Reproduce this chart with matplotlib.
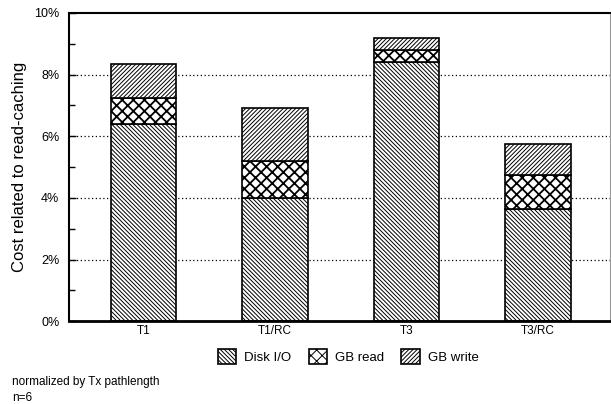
import matplotlib
matplotlib.use('Agg')
import matplotlib.pyplot as plt
import numpy as np

plt.rcParams['font.family'] = ['Liberation Sans', 'DejaVu Sans']

# data (percent)
configs = ['T1', 'T1/RC', 'T3', 'T3/RC']
disk_io = [6.4, 4.0, 8.4, 3.65]
gb_read = [0.85, 1.2, 0.4, 1.1]
gb_write = [1.1, 1.7, 0.4, 1.0]

x = np.arange(len(configs))
w = 0.5

fig = plt.figure(figsize=(6.11, 4.04), dpi=100)
ax = fig.add_axes([0.113, 0.205, 0.885, 0.763])

plt.rcParams['hatch.linewidth'] = 0.7
b1 = ax.bar(x, disk_io, w, color='white', edgecolor='black', hatch='\\' * 8, lw=1.2, label='Disk I/O', zorder=2)
plt.rcParams['hatch.linewidth'] = 1.3
b2 = ax.bar(x, gb_read, w, bottom=disk_io, color='white', edgecolor='black', hatch='xxx', lw=1.2, label='GB read', zorder=2)
plt.rcParams['hatch.linewidth'] = 0.7
bot = np.array(disk_io) + np.array(gb_read)
b3 = ax.bar(x, gb_write, w, bottom=bot, color='white', edgecolor='black', hatch='/' * 8, lw=1.2, label='GB write', zorder=2)

ax.set_xlim(-0.567, 3.547)
ax.set_ylim(0, 10)
ax.set_yticks(np.arange(0, 11, 2))
ax.set_yticklabels([f'{v}%' for v in range(0, 11, 2)], fontsize=9)
ax.set_yticks(np.arange(1, 10, 2), minor=True)
ax.set_xticks(x)
ax.set_xticklabels(configs, fontsize=8.5)
ax.tick_params(direction='in', length=5, width=1)
ax.tick_params(which='minor', direction='in', length=4, width=1)
ax.tick_params(axis='y', pad=7)
ax.tick_params(axis='x', pad=3)

for g in [2, 4, 6, 8]:
    ax.axhline(g, color='black', lw=0.9, ls=(0, (1, 2)), zorder=1)

ax.spines['top'].set_linewidth(1.5)
ax.spines['left'].set_linewidth(1.5)
ax.spines['bottom'].set_linewidth(2)
ax.spines['right'].set_linewidth(0.8)
ax.spines['right'].set_color('#999999')

ax.set_ylabel('Cost related to read-caching', fontsize=12)
ax.yaxis.set_label_coords(-0.078, 0.5)

leg = fig.legend(handles=[b1, b2, b3], loc='center', bbox_to_anchor=(0.57, 0.117),
                 ncol=3, frameon=False, fontsize=9.5, handlelength=1.4, handleheight=1.4,
                 columnspacing=1.3, handletextpad=0.6)

fig.text(0.02, 0.055, 'normalized by Tx pathlength', fontsize=8.5, va='center')
fig.text(0.02, 0.016, 'n=6', fontsize=8.5, va='center')

fig.savefig('out.png', dpi=100)
